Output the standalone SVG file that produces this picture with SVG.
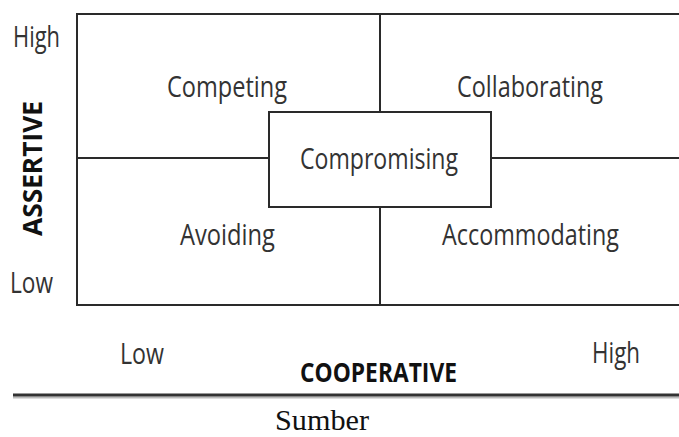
<svg xmlns="http://www.w3.org/2000/svg" width="679" height="437" viewBox="0 0 679 437">
  <style>
    .line { stroke: #2a2a2a; stroke-width: 2; fill: none; }
    .lbl { font-family: "Open Sans", "Liberation Sans", sans-serif; font-size: 30px; fill: #333; }
    .axis { font-family: "Open Sans", "Liberation Sans", sans-serif; font-size: 27px; font-weight: bold; fill: #111; }
    .src { font-family: "Liberation Serif", "Times New Roman", serif; font-size: 30px; fill: #111; }
  </style>
  <rect width="679" height="437" fill="#fff"/>

  <!-- quadrant grid -->
  <g id="grid">
    <rect class="line" x="77" y="14" width="610" height="291"/>
  </g>
  <g id="connectors">
    <line class="line" x1="380" y1="14" x2="380" y2="112"/>
    <line class="line" x1="380" y1="207" x2="380" y2="305"/>
    <line class="line" x1="77" y1="158" x2="269" y2="158"/>
    <line class="line" x1="491" y1="158" x2="679" y2="158"/>
  </g>

  <!-- quadrants -->
  <g id="competing">
    <text class="lbl" x="167" y="97" textLength="120" lengthAdjust="spacingAndGlyphs">Competing</text>
  </g>
  <g id="collaborating">
    <text class="lbl" x="457" y="97" textLength="146" lengthAdjust="spacingAndGlyphs">Collaborating</text>
  </g>
  <g id="avoiding">
    <text class="lbl" x="180" y="245" textLength="95" lengthAdjust="spacingAndGlyphs">Avoiding</text>
  </g>
  <g id="accommodating">
    <text class="lbl" x="442" y="245" textLength="177" lengthAdjust="spacingAndGlyphs">Accommodating</text>
  </g>
  <g id="compromising">
    <rect class="line" x="269" y="112" width="222" height="95" fill="#fff"/>
    <text class="lbl" x="300" y="169" textLength="158" lengthAdjust="spacingAndGlyphs">Compromising</text>
  </g>

  <!-- vertical axis -->
  <g id="assertive-axis">
    <text class="lbl" x="13" y="47" textLength="47" lengthAdjust="spacingAndGlyphs">High</text>
    <text class="lbl" x="10" y="293" textLength="43" lengthAdjust="spacingAndGlyphs">Low</text>
    <text class="axis" transform="translate(42 236) rotate(-90)" x="0" y="0" textLength="135" lengthAdjust="spacingAndGlyphs">ASSERTIVE</text>
  </g>

  <!-- horizontal axis -->
  <g id="cooperative-axis">
    <text class="lbl" x="120" y="364" textLength="44" lengthAdjust="spacingAndGlyphs">Low</text>
    <text class="lbl" x="592" y="363" textLength="48" lengthAdjust="spacingAndGlyphs">High</text>
    <text class="axis" x="300" y="382" textLength="157" lengthAdjust="spacingAndGlyphs">COOPERATIVE</text>
  </g>

  <!-- caption rule and source -->
  <g id="caption">
    <line x1="13" y1="397.5" x2="679" y2="397.5" stroke="#bbb" stroke-width="2"/>
    <line x1="13" y1="395" x2="679" y2="395" stroke="#333" stroke-width="3"/>
    <text class="src" x="275" y="430" textLength="94" lengthAdjust="spacingAndGlyphs">Sumber</text>
  </g>
</svg>
